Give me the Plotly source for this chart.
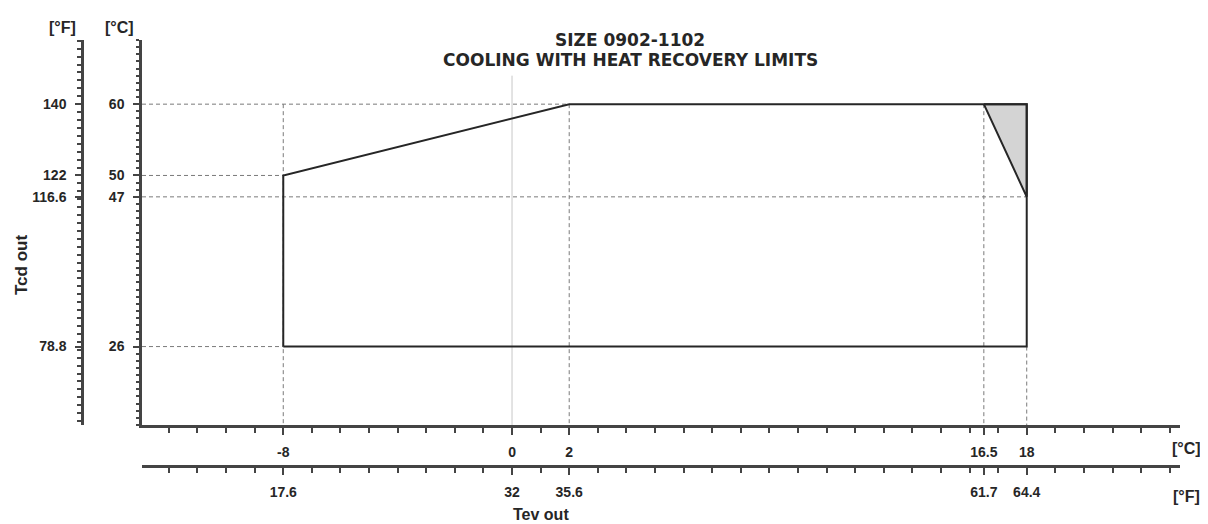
import plotly.graph_objects as go

# Operating envelope (°C): Tev out on x, Tcd out on y
env_tev = [-8, -8, 2, 18, 18, -8]
env_tcd = [26, 50, 60, 60, 26, 26]

# Shaded heat-recovery corner
hr_tev = [16.5, 18, 18, 16.5]
hr_tcd = [60, 60, 47, 60]

# Dashed guide lines
h_levels = [60, 50, 47, 26]
h_ends = [2, -8, 18, -8]
v_levels = [-8, 2, 16.5, 18]
v_tops = [60, 60, 60, 26]

# Labelled ticks
tev_ticks_c = [-8, 0, 2, 16.5, 18]
tev_labels_f = ["17.6", "32", "35.6", "61.7", "64.4"]
tcd_ticks_c = [26, 47, 50, 60]
tcd_labels_f = ["78.8", "116.6", "122", "140"]

X_RANGE = [-12.94, 23.36]
Y_RANGE = [15.0, 69.0]


def c_to_f(v):
    return v * 1.8 + 32


# page body has an 8 px margin, so the figure is shifted by that much
OFF = 8
W, H = 1208 - OFF, 524 - OFF


def px(x):
    return (x - OFF) / W


def py(y):
    return 1 - (y - OFF) / H


FONT = "Liberation Sans, Arial, sans-serif"
INK = "#262626"
GUIDE = "#7a7a7a"
DASH = "4px,3px"

fig = go.Figure()

# Light vertical line at 0 °C
fig.add_trace(go.Scatter(x=[0, 0], y=[64, Y_RANGE[0]], mode="lines",
                         line={"color": "#c8c8c8", "width": 1}, hoverinfo="skip"))

# Dashed horizontal guides from the axis
for lvl, end in zip(h_levels, h_ends):
    fig.add_trace(go.Scatter(x=[X_RANGE[0], end], y=[lvl, lvl], mode="lines",
                             line={"color": GUIDE, "width": 1, "dash": DASH},
                             hoverinfo="skip"))

# Dashed vertical guides down to the axis
for lvl, top in zip(v_levels, v_tops):
    fig.add_trace(go.Scatter(x=[lvl, lvl], y=[top, Y_RANGE[0]], mode="lines",
                             line={"color": GUIDE, "width": 1, "dash": DASH},
                             hoverinfo="skip"))

fig.add_trace(go.Scatter(x=hr_tev, y=hr_tcd, mode="lines", fill="toself",
                         fillcolor="#d4d4d4", line={"color": INK, "width": 2},
                         hoverinfo="skip"))
fig.add_trace(go.Scatter(x=env_tev, y=env_tcd, mode="lines",
                         line={"color": INK, "width": 2}, hoverinfo="skip"))

# Hidden traces to activate the °F axes
fig.add_trace(go.Scatter(x=[c_to_f(X_RANGE[0])], y=[40], xaxis="x2", yaxis="y",
                         mode="markers", marker={"opacity": 0}, hoverinfo="skip"))
fig.add_trace(go.Scatter(x=[0], y=[c_to_f(40)], xaxis="x", yaxis="y2",
                         mode="markers", marker={"opacity": 0}, hoverinfo="skip"))

x_dom = [px(142), px(1180)]
y_dom = [py(425), py(40)]

tick_font = {"family": FONT, "size": 14, "color": INK, "weight": "bold"}
axis_common = dict(showgrid=False, zeroline=False, showline=True,
                   linecolor="#444", linewidth=2.5, ticks="outside",
                   tickcolor="#444", tickwidth=1.5, tickfont=tick_font)

fig.update_layout(
    width=W, height=H,
    margin={"l": 0, "r": 0, "t": 0, "b": 0},
    paper_bgcolor="white", plot_bgcolor="white",
    showlegend=False,
    font={"family": FONT, "size": 14, "color": INK},
    xaxis=dict(axis_common, domain=x_dom, range=X_RANGE, anchor="y",
               tickvals=tev_ticks_c, ticktext=[str(v) for v in tev_ticks_c],
               ticklen=7, ticklabelstandoff=5,
               minor={"tick0": 0, "dtick": 1, "ticklen": 5, "ticks": "outside",
                      "tickcolor": "#444"}),
    xaxis2=dict(axis_common, range=[c_to_f(v) for v in X_RANGE],
                overlaying="x", anchor="free", position=py(466),
                domain=x_dom, side="bottom",
                tickvals=[c_to_f(v) for v in tev_ticks_c], ticktext=tev_labels_f,
                ticklen=7, ticklabelstandoff=5,
                minor={"tickvals": [c_to_f(v) for v in range(-12, 24)],
                       "ticklen": 5, "ticks": "outside", "tickcolor": "#444"}),
    yaxis=dict(axis_common, domain=y_dom, range=Y_RANGE, anchor="x",
               tickvals=tcd_ticks_c, ticktext=[str(v) for v in tcd_ticks_c],
               ticklen=6, ticklabelstandoff=6,
               minor={"tick0": 0, "dtick": 1, "ticklen": 3, "ticks": "outside",
                      "tickcolor": "#444"}),
    yaxis2=dict(axis_common, range=[c_to_f(v) for v in Y_RANGE],
                overlaying="y", anchor="free", position=px(82), side="left",
                tickvals=[c_to_f(v) for v in tcd_ticks_c], ticktext=tcd_labels_f,
                ticklen=6, ticklabelstandoff=6,
                minor={"tick0": 0, "dtick": 2, "ticklen": 4, "ticks": "outside",
                       "tickcolor": "#444"}),
)

notes = [
    ("SIZE 0902-1102", 630, 40, 0, 17, "DejaVu Sans"),
    ("COOLING WITH HEAT RECOVERY LIMITS", 630, 60, 0, 17, "DejaVu Sans"),
    ("[°F]", 62, 28, 0, 16, FONT),
    ("[°C]", 119, 28, 0, 16, FONT),
    ("[°C]", 1186, 448, 0, 16, FONT),
    ("[°F]", 1186, 496, 0, 16, FONT),
    ("Tev out", 541, 514, 0, 16, FONT),
    ("Tcd out", 21, 265, -90, 17, FONT),
]
for text, x, y, ang, size, fam in notes:
    fig.add_annotation(text=text, xref="paper", yref="paper",
                       x=px(x), y=py(y), xanchor="center", yanchor="middle",
                       showarrow=False, textangle=ang,
                       font={"family": fam, "size": size, "color": INK,
                             "weight": "bold"})

fig.write_html("out.html")
